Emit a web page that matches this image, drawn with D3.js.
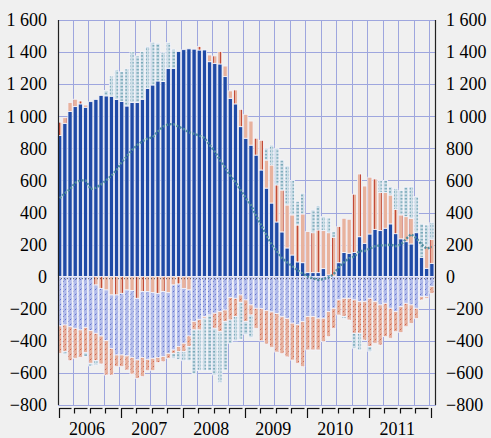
<!DOCTYPE html>
<meta charset="utf-8">
<style>
body { margin: 0; background: #f0f0f0; }
svg { display: block; font-family: "Liberation Serif", "Times New Roman", serif; }
.grid line { stroke: #9ea6de; stroke-width: 1; shape-rendering: crispEdges; }
.lbl { font-size: 18px; fill: #000; }
.bar { stroke: #f4f4fb; stroke-width: 0.8; }
</style>
<svg></svg>
<script src="https://d3js.org/d3.v7.min.js"></script>
<script>

// monthly values, Jan 2006 .. Jan 2012 (73 months), one row per year
var years = ["2006", "2007", "2008", "2009", "2010", "2011"];
var yTicks = [-800, -600, -400, -200, 0, 200, 400, 600, 800, 1000, 1200, 1400, 1600];

var bluePos = [
  880, 956, 1029, 1060, 1077, 1056, 1091, 1105, 1130, 1127, 1125, 1104,
  1093, 1064, 1085, 1085, 1106, 1174, 1195, 1220, 1216, 1299, 1299, 1403,
  1415, 1420, 1418, 1413, 1413, 1340, 1330, 1326, 1247, 1112, 1077, 935,
  863, 820, 758, 665, 552, 459, 341, 279, 179, 135, 92, 87,
  25, 25, 25, 50, 11, 4, 87, 150, 146, 150, 249, 208,
  266, 295, 287, 302, 329, 268, 236, 218, 204, 274, 121, 52,
  83];

// signed: positive part sits on top of blue, negative part right under zero
var salmon = [
  83, 35, 56, 46, 18, 14, 0, -52, -73, -83, -114, -114,
  -104, -83, -87, -135, -93, -93, -100, -104, -93, -100, -52, -46,
  -73, -83, 0, 21, 0, 42, 46, 77, 66, 46, 87, 108,
  149, 150, 105, 185, 175, 237, 231, 261, 268, 250, 230, 304,
  256, 249, 266, 237, 263, 242, 225, 214, 212, 364, 391, 357,
  354, 314, 237, 222, 180, 152, 149, 156, 160, 0, 0, 139,
  150];

var tealPos = [
  0, 0, 0, 0, 0, 0, 0, 0, 0, 33, 126, 185,
  185, 231, 318, 291, 297, 260, 266, 235, 183, 160, 119, 0,
  0, 0, 0, 0, 0, 0, 0, 0, 0, 0, 0, 0,
  0, 0, 0, 0, 73, 124, 228, 187, 243, 215, 148, 129,
  0, 142, 150, 87, 92, 33, 0, 0, 0, 0, 0, 0,
  0, 0, 75, 75, 51, 130, 153, 185, 197, 225, 208, 131,
  104];

var blueNeg = [
  -307, -301, -312, -322, -332, -316, -336, -301, -297, -316, -333, -374,
  -384, -411, -416, -384, -410, -422, -409, -399, -405, -378, -405, -390,
  -342, -287, -280, -266, -249, -239, -228, -218, -208, -130, -135, -114,
  -145, -176, -197, -200, -210, -220, -230, -250, -260, -290, -300, -280,
  -249, -249, -259, -259, -218, -197, -145, -135, -135, -145, -156, -156,
  -135, -156, -176, -166, -197, -218, -187, -166, -176, -197, -125, -125,
  -62];

var salmonNeg = [
  -171, -166, -212, -187, -171, -158, -204, -171, -174, -214, -166, -73,
  -73, -88, -104, -115, -120, -71, -77, -33, -32, -31, -21, -31,
  -52, -66, -52, -66, -10, 0, -94, -125, -72, -140, -114, -46,
  -135, -63, -125, -200, -210, -220, -240, -230, -240, -230, -240, -281,
  -208, -208, -198, -146, -156, -125, -94, -114, -135, -208, -197, -239,
  -301, -259, -250, -208, -187, -125, -162, -146, -115, -63, -20, -10,
  -42];

var tealNeg = [
  0, -17, 0, 0, 0, -24, -17, -27, 0, 0, 0, 0,
  0, 0, 0, 0, 0, 0, 0, 0, 0, 0, -31, -48,
  -57, -88, -275, -254, -327, -347, -291, -318, -302, -145, -151, -230,
  -80, -141, 0, 0, 0, 0, 0, 0, 0, 0, 0, 0,
  0, 0, 0, 0, 0, 0, 0, -10, 0, -93, -104, 0,
  -31, 0, 0, 0, 0, 0, 0, 0, 0, 0, 0, 0,
  0];

var net = [
  489, 520, 545, 585, 600, 600, 545, 555, 575, 600, 630, 665,
  715, 750, 790, 820, 845, 860, 870, 905, 935, 950, 951, 935,
  920, 900, 890, 880, 865, 821, 780, 727, 680, 630, 590, 540,
  490, 447, 380, 320, 260, 200, 160, 115, 90, 65, 40, 20,
  0, -10, -20, -15, -5, 15, 60, 90, 115, 125, 160, 160,
  175, 190, 195, 195, 200, 190, 200, 235, 265, 240, 200, 175,
  185];

var width = 491, height = 438;
var pl = 58, pr = 436, pt = 20, pb = 405;

var svg = d3.select("svg")
    .attr("width", width)
    .attr("height", height);

var x = d3.scaleLinear().domain([-0.33, 72.8]).range([pl, pr]);
var y = d3.scaleLinear().domain([-800, 1600]).range([pb, pt]);

// patterns
var defs = svg.append("defs");

var pTeal = defs.append("pattern").attr("id", "teal")
    .attr("patternUnits", "userSpaceOnUse").attr("width", 4).attr("height", 3.4);
pTeal.append("rect").attr("width", 4).attr("height", 3.4).attr("fill", "#cfdfe8");
pTeal.append("rect").attr("x", 0.5).attr("y", 1).attr("width", 2.5).attr("height", 1.2).attr("fill", "#6a9fb0");

var pSalmon = defs.append("pattern").attr("id", "salmon")
    .attr("patternUnits", "userSpaceOnUse").attr("width", 7).attr("height", 4);
pSalmon.append("rect").attr("width", 7).attr("height", 4).attr("fill", "#e8b29d");
pSalmon.append("rect").attr("x", 3).attr("width", 0.8).attr("height", 4).attr("fill", "#b8301e");

function diag(id, bg, fg) {
  var p = defs.append("pattern").attr("id", id)
      .attr("patternUnits", "userSpaceOnUse").attr("width", 5).attr("height", 5);
  p.append("rect").attr("width", 5).attr("height", 5).attr("fill", bg);
  p.append("path").attr("d", "M0,5L5,0")
      .attr("stroke", fg).attr("stroke-width", 0.8).attr("stroke-dasharray", "2,2");
}
diag("bdiag", "#b1bbea", "#4c60c4");
diag("sdiag", "#e6b09c", "#c8503e");

// grid
var grid = svg.append("g").attr("class", "grid");
grid.selectAll(".h").data(yTicks).enter().append("line")
    .attr("x1", pl).attr("x2", pr)
    .attr("y1", function(d) { return Math.round(y(d)) + 0.5; })
    .attr("y2", function(d) { return Math.round(y(d)) + 0.5; });
grid.selectAll(".v").data(d3.range(1, 25)).enter().append("line")
    .attr("x1", function(d) { return Math.round(x(d * 3 - 0.5)) + 0.5; })
    .attr("x2", function(d) { return Math.round(x(d * 3 - 0.5)) + 0.5; })
    .attr("y1", pt).attr("y2", pb);

// build stacked segments
var segs = [];
bluePos.forEach(function(b, i) {
  var up = 0, down = 0;
  segs.push({i: i, a: 0, b: b, fill: "#1f4aa6"});
  up = b;
  if (salmon[i] > 0) { segs.push({i: i, a: up, b: up + salmon[i], fill: "url(#salmon)"}); up += salmon[i]; }
  if (tealPos[i] > 0) { segs.push({i: i, a: up, b: up + tealPos[i], fill: "url(#teal)"}); up += tealPos[i]; }
  if (salmon[i] < 0) { segs.push({i: i, a: salmon[i], b: 0, fill: "url(#salmon)"}); down = salmon[i]; }
  segs.push({i: i, a: down + blueNeg[i], b: down, fill: "url(#bdiag)"}); down += blueNeg[i];
  if (salmonNeg[i] < 0) { segs.push({i: i, a: down + salmonNeg[i], b: down, fill: "url(#sdiag)"}); down += salmonNeg[i]; }
  if (tealNeg[i] < 0) { segs.push({i: i, a: down + tealNeg[i], b: down, fill: "url(#teal)"}); }
});

var bw = 4.2;
svg.append("g").selectAll("rect").data(segs).enter().append("rect")
    .attr("class", "bar")
    .attr("x", function(d) { return x(d.i) - bw / 2; })
    .attr("width", bw)
    .attr("y", function(d) { return y(Math.max(d.a, d.b)); })
    .attr("height", function(d) { return Math.abs(y(d.a) - y(d.b)); })
    .attr("fill", function(d) { return d.fill; });

// dotted zero line
svg.append("line")
    .attr("x1", pl).attr("x2", pr)
    .attr("y1", y(0) + 2).attr("y2", y(0) + 2)
    .attr("stroke", "#333").attr("stroke-width", 0.8).attr("stroke-dasharray", "1,2");

// net line
svg.append("path")
    .datum(net)
    .attr("fill", "none")
    .attr("stroke", "#4f8d9e")
    .attr("stroke-width", 2.4)
    .attr("stroke-dasharray", "2,1.6")
    .attr("d", d3.line().x(function(d, i) { return x(i); }).y(function(d) { return y(d); }));

// axis lines
svg.append("line").attr("x1", pl + 0.5).attr("x2", pl + 0.5).attr("y1", pt).attr("y2", pb)
    .attr("stroke", "#222").attr("stroke-width", 1.2);
svg.append("line").attr("x1", pr - 0.5).attr("x2", pr - 0.5).attr("y1", pt).attr("y2", pb)
    .attr("stroke", "#222").attr("stroke-width", 1.2);

// y labels both sides
var fmt = function(d) { return d3.format(",")(d).replace(/,/g, " "); };
svg.append("g").selectAll("text").data(yTicks).enter().append("text")
    .attr("class", "lbl")
    .attr("x", 47).attr("y", function(d) { return y(d); })
    .attr("dy", "0.35em").attr("text-anchor", "end")
    .text(fmt);
svg.append("g").selectAll("text").data(yTicks).enter().append("text")
    .attr("class", "lbl")
    .attr("x", 446).attr("y", function(d) { return y(d); })
    .attr("dy", "0.35em").attr("text-anchor", "start")
    .text(fmt);

// x axis: quarter ticks, longer at year starts
var xa = svg.append("g").attr("stroke", "#111").attr("stroke-width", 1.2).attr("fill", "none");
d3.range(0, 25).forEach(function(k) {
  var x0 = Math.round(x(k * 3 - 0.2)) + 0.5;
  var x1 = Math.round(x((k + 1) * 3 - 0.2)) - 2.5;
  xa.append("line").attr("x1", x0).attr("x2", x0).attr("y1", 408).attr("y2", k % 4 === 0 ? 418 : 413.5);
  if (k < 24) xa.append("line").attr("x1", x0).attr("x2", x1).attr("y1", 408.5).attr("y2", 408.5);
});

svg.append("g").selectAll("text").data(years).enter().append("text")
    .attr("class", "lbl")
    .attr("x", function(d, k) { return x(k * 12 + 5.3); })
    .attr("y", 435)
    .attr("text-anchor", "middle")
    .text(function(d) { return d; });

</script>
